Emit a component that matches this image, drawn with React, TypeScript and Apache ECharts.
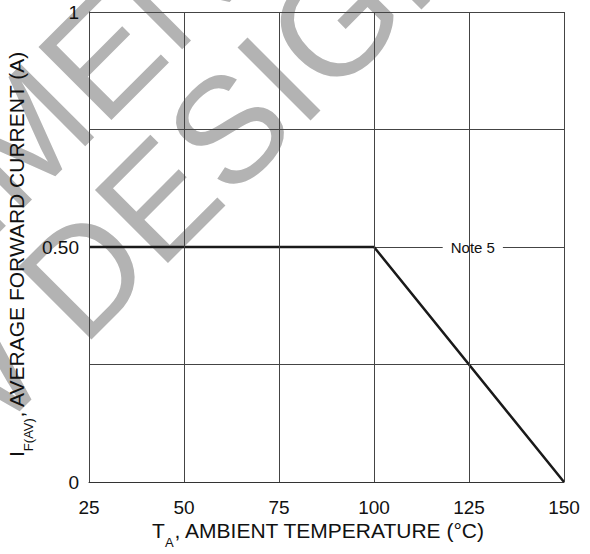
import React, { useEffect, useRef } from 'react';
import * as echarts from 'echarts';

const FONT = '"Liberation Sans", Arial, Helvetica, sans-serif';

// Data
const temperatures = [25, 100, 150];
const currents = [0.5, 0.5, 0];
const xRange = [25, 150];
const xStep = 25;
const yRange = [0, 1];
const yStep = 0.25;
const yTickLabels: Record<string, string> = { '0': '0', '0.5': '0.50', '1': '1' };
const noteText = 'Note 5';
const notePoint = [126, 0.5];
const watermarkLines = ['NOT RECOMMENDED', 'FOR NEW DESIGN'];
const xName = 'T{sub|A}, AMBIENT TEMPERATURE (°C)';
const yName = 'I{sub|F(AV)}, AVERAGE FORWARD CURRENT (A)';

export default function App() {
  const ref = useRef<HTMLDivElement>(null);

  useEffect(() => {
    if (!ref.current) return;
    const chart = echarts.init(ref.current, undefined, { renderer: 'svg' });
    const nameStyle = (pad: number[]) => ({
      fontSize: 21,
      color: '#111',
      fontFamily: FONT,
      lineHeight: 37,
      padding: pad,
      rich: {
        sub: { fontSize: 13, lineHeight: 13, verticalAlign: 'bottom', color: '#111', fontFamily: FONT },
      },
    });
    const option: any = {
      animation: false,
      backgroundColor: '#ffffff',
      textStyle: { fontFamily: FONT },
      grid: { left: 89, right: 26, top: 12, bottom: 72, containLabel: false, outerBoundsMode: 'none' },
      xAxis: {
        type: 'value',
        min: xRange[0],
        max: xRange[1],
        interval: xStep,
        z: 10,
        axisLine: { show: true, lineStyle: { color: '#333', width: 1 } },
        axisTick: { show: false },
        axisLabel: { margin: 16, fontSize: 19, color: '#111', fontFamily: FONT },
        splitLine: { show: true, lineStyle: { color: '#444', width: 1 } },
        name: xName,
        nameLocation: 'middle',
        nameGap: 30,
        nameMoveOverlap: false,
        nameTextStyle: nameStyle([0, 16, 0, 0]),
      },
      yAxis: {
        type: 'value',
        min: yRange[0],
        max: yRange[1],
        interval: yStep,
        axisLine: { show: true, lineStyle: { color: '#333', width: 1 } },
        axisTick: { show: false },
        axisLabel: {
          margin: 10,
          fontSize: 19,
          color: '#111',
          fontFamily: FONT,
          formatter: (v: number) => yTickLabels[String(v)] ?? '',
        },
        splitLine: { show: true, lineStyle: { color: '#444', width: 1 } },
        name: yName,
        nameLocation: 'middle',
        nameGap: 54,
        nameMoveOverlap: false,
        nameTextStyle: nameStyle([0, 14, 0, 0]),
      },
      graphic: [
        {
          type: 'group',
          x: 84.6,
          y: 346.4,
          rotation: Math.PI / 4,
          z: -10,
          silent: true,
          children: watermarkLines.map((t, i) => ({
            type: 'text',
            x: -90,
            y: i === 0 ? -193 : -52,
            z: -10,
            silent: true,
            style: {
              text: t,
              fill: '#b3b3b3',
              font: `150px ${FONT}`,
              textAlign: 'center',
              textVerticalAlign: 'middle',
              align: 'center',
              verticalAlign: 'middle',
            },
          })),
        },
      ],
      series: [
        {
          type: 'line',
          data: temperatures.map((t, i) => [t, currents[i]]),
          symbol: 'none',
          lineStyle: { color: '#1a1a1a', width: 2.5 },
          silent: true,
          markPoint: {
            silent: true,
            symbol: 'rect',
            symbolSize: [1, 1],
            itemStyle: { color: 'rgba(0,0,0,0)' },
            label: {
              show: true,
              position: 'inside',
              formatter: noteText,
              fontSize: 15,
              color: '#111',
              fontFamily: FONT,
              backgroundColor: '#ffffff',
              padding: [3, 8],
            },
            data: [{ coord: notePoint }],
          },
        },
      ],
    };
    chart.setOption(option);
    return () => chart.dispose();
  }, []);

  return (
    <div
      ref={ref}
      style={{ position: 'absolute', left: 0, top: 0, width: 590, height: 554, background: '#fff' }}
    />
  );
}
